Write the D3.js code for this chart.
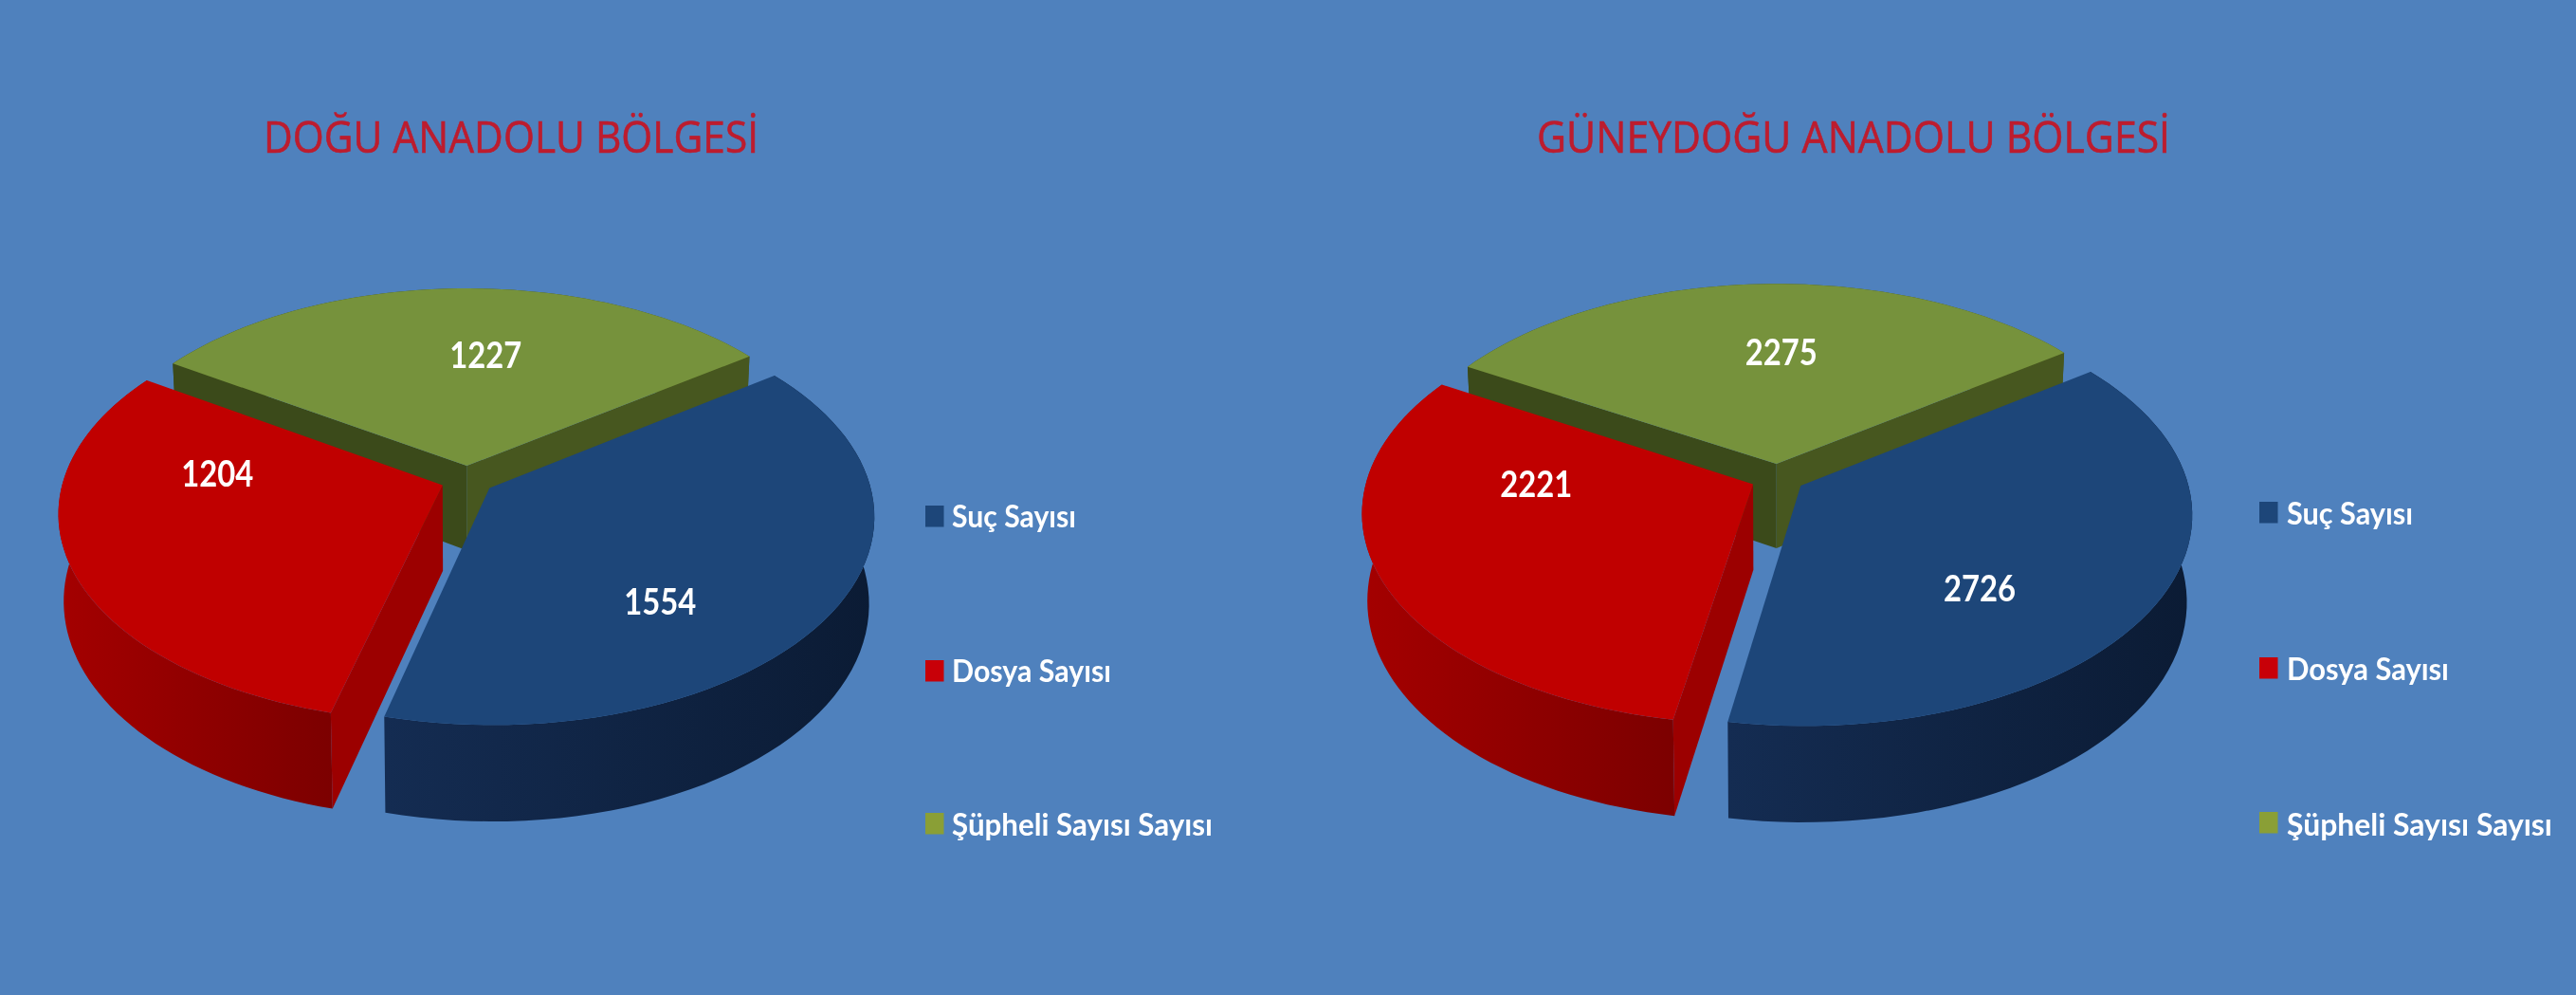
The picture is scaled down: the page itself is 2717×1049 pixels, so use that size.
<!DOCTYPE html>
<html>
<head>
<meta charset="utf-8">
<script src="https://cdnjs.cloudflare.com/ajax/libs/d3/7.8.5/d3.min.js"></script>
<style>
  html, body { margin: 0; padding: 0; background: #4f81bd; overflow: hidden; }
  svg { display: block; filter: blur(0.7px); }
  text { font-family: Lato, "Open Sans", sans-serif; }
</style>
</head>
<body>
<svg id="chart" width="2717" height="1049"></svg>
<script>
const categories = ['Suç Sayısı', 'Dosya Sayısı', 'Şüpheli Sayısı Sayısı'];
const doguValues = [1554, 1204, 1227];
const guneydoguValues = [2726, 2221, 2275];

const topColors = ['#1d4679', '#c00000', '#76923c'];
const legendColors = ['#1d4679', '#c80008', '#8a9f36'];
const wallColors = [['#142c52', '#0b1b34'], ['#a40000', '#7c0000'], ['#3b4a1a', '#47571f']];
// cut faces, start edge then end edge; null where the slice hides its own face
const faceColors = [[null, null], ['#9c0000', null], ['#3b4a1a', '#47571f']];

const panels = [
  {
    title: 'DOĞU ANADOLU BÖLGESİ', titleX: 278, titleLen: 522, values: doguValues,
    cx: 493, cy: 506, R: 400, bR: 215, startDeg: 54,
    labelTurn: [17, 27, 6.6], labelRadius: [0.66, 0.6, 0.6],
    legendX: 976, textX: 1004, legendEnd: [1135, 1172, 1279], baselines: [556, 719, 881], swatchTop: [533, 696, 857]
  },
  {
    title: 'GÜNEYDOĞU ANADOLU BÖLGESİ', titleX: 1621, titleLen: 668, values: guneydoguValues,
    cx: 1875, cy: 504, R: 407, bR: 218, startDeg: 54,
    labelTurn: [15, 25, 4], labelRadius: [0.63, 0.56, 0.593],
    legendX: 2383, textX: 2412, legendEnd: [2545, 2583, 2692], baselines: [553, 717, 881], swatchTop: [529, 693, 856]
  }
];

const perspective = 0.13;   // front of the disk looks bigger than the back
const explode = 0.07;
const depth = 90;
const depthGrow = 0.125;
const bottomShrink = 0.987;

const svg = d3.select('#chart');
const defs = svg.append('defs');

wallColors.forEach((c, i) => {
  const g = defs.append('linearGradient').attr('id', 'wall' + i);
  g.append('stop').attr('offset', '0%').attr('stop-color', c[0]);
  g.append('stop').attr('offset', '100%').attr('stop-color', c[1]);
});

const line = d3.line();

function drawPanel(p) {
  const root = svg.append('g');
  const pie = d3.pie().sort(null)
    .startAngle(p.startDeg * Math.PI / 180)
    .endAngle(p.startDeg * Math.PI / 180 + 2 * Math.PI);
  const slices = pie(p.values);

  const project = (u, v) => {
    const w = 1 - perspective * v;
    return [p.cx + p.R * u / w, p.cy + p.bR * v / w];
  };
  const lower = (u, v) => {
    const t = project(u, v);
    return [p.cx + (t[0] - p.cx) * bottomShrink, t[1] + depth * (1 + depthGrow * v)];
  };

  // back slice first so the nearer ones paint over it
  [2, 1, 0].forEach(i => {
    const s = slices[i];
    const mid = (s.startAngle + s.endAngle) / 2;
    const ou = Math.sin(mid) * explode;
    const ov = -Math.cos(mid) * explode;
    const angles = d3.range(0, 61).map(d3.scaleLinear([0, 60], [s.startAngle, s.endAngle]));
    const rim = angles.map(a => [ou + Math.sin(a), ov - Math.cos(a)]);
    const first = rim[0];
    const last = rim[rim.length - 1];

    const g = root.append('g');
    g.append('path')
      .attr('fill', 'url(#wall' + i + ')')
      .attr('d', line(rim.map(d => project(d[0], d[1])).concat(rim.slice().reverse().map(d => lower(d[0], d[1])))) + 'Z');
    [first, last].forEach((e, k) => {
      if (!faceColors[i][k]) return;
      g.append('path')
        .attr('fill', faceColors[i][k])
        .attr('d', line([project(ou, ov), project(e[0], e[1]), lower(e[0], e[1]), lower(ou, ov)]) + 'Z');
    });
    g.append('path')
      .attr('fill', topColors[i])
      .attr('d', line([project(ou, ov)].concat(rim.map(d => project(d[0], d[1])))) + 'Z');
  });

  // value labels sit on top of every slice
  slices.forEach((s, i) => {
    const mid = (s.startAngle + s.endAngle) / 2;
    const a = mid + p.labelTurn[i] * Math.PI / 180;
    const u = Math.sin(mid) * explode + Math.sin(a) * p.labelRadius[i];
    const v = -Math.cos(mid) * explode - Math.cos(a) * p.labelRadius[i];
    const pos = project(u, v);
    root.append('text')
      .attr('x', pos[0]).attr('y', pos[1] + 14)
      .attr('text-anchor', 'middle')
      .attr('font-size', 38).attr('font-weight', 700).attr('fill', '#fff')
      .attr('textLength', 76).attr('lengthAdjust', 'spacingAndGlyphs')
      .text(s.data);
  });

  root.append('text')
    .attr('x', p.titleX).attr('y', 161)
    .attr('font-size', 45).attr('fill', '#bd1c2e')
    .attr('stroke', '#bd1c2e').attr('stroke-width', 0.6)
    .style('font-family', '"Open Sans", sans-serif')
    .attr('textLength', p.titleLen).attr('lengthAdjust', 'spacingAndGlyphs')
    .text(p.title);

  categories.forEach((c, i) => {
    root.append('rect')
      .attr('x', p.legendX).attr('y', p.swatchTop[i])
      .attr('width', 19.5).attr('height', 22.5)
      .attr('fill', legendColors[i]);
    root.append('text')
      .attr('x', p.textX).attr('y', p.baselines[i])
      .attr('font-size', 32).attr('font-weight', 700).attr('fill', '#fff')
      .attr('textLength', p.legendEnd[i] - p.textX).attr('lengthAdjust', 'spacingAndGlyphs')
      .text(c);
  });
}

panels.forEach(drawPanel);
</script>
</body>
</html>
